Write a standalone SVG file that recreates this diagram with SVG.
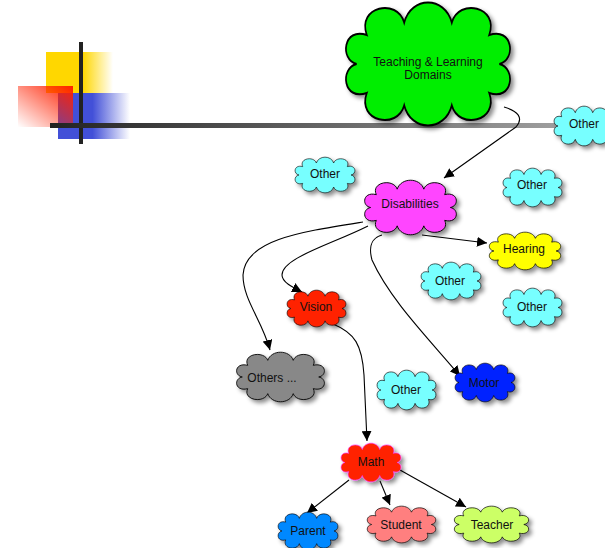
<svg xmlns="http://www.w3.org/2000/svg" width="605" height="548" viewBox="0 0 605 548">
<style>
.cl{stroke:#000;stroke-width:1;filter:url(#sh)}
.cl use{vector-effect:non-scaling-stroke}
text{font-family:"Liberation Sans",Arial,sans-serif;font-size:12px;fill:#111;text-anchor:middle}
.cn{fill:none;stroke:#000;stroke-width:1.1}
</style>
<defs>
<filter id="sh" x="-20%" y="-20%" width="150%" height="160%">
<feDropShadow dx="3" dy="3" stdDeviation="2" flood-color="#000" flood-opacity="0.45"/>
</filter>
<path id="cloud" d="M14,16 C8,2 32,-2 36,10 C40,-3 60,-3 64,10 C68,-2 92,2 86,16 C100,12 102,28 92,30 C102,32 100,48 86,44 C92,58 68,62 64,50 C60,63 40,63 36,50 C32,62 8,58 14,44 C0,48 -2,32 8,30 C-2,28 0,12 14,16 Z"/>
<marker id="ar" viewBox="0 0 10 10" refX="10" refY="5" markerWidth="10" markerHeight="10" markerUnits="userSpaceOnUse" orient="auto">
<path d="M0,0 L10,5 L0,10 Z" fill="#000"/>
</marker>
<linearGradient id="gy" x1="0" x2="1" y1="0" y2="0"><stop offset="0.55" stop-color="#ffd700"/><stop offset="1" stop-color="#ffd700" stop-opacity="0"/></linearGradient>
<linearGradient id="gb" x1="0" x2="1" y1="0" y2="0"><stop offset="0.48" stop-color="#4250d8"/><stop offset="1" stop-color="#4250d8" stop-opacity="0"/></linearGradient>
<linearGradient id="gr" x1="1" y1="0" x2="0" y2="1"><stop offset="0" stop-color="#ff2000"/><stop offset="1" stop-color="#ff2000" stop-opacity="0"/></linearGradient>
<linearGradient id="gbar" x1="50" x2="605" y1="0" y2="0" gradientUnits="userSpaceOnUse"><stop offset="0" stop-color="#222"/><stop offset="1" stop-color="#aaa"/></linearGradient>
</defs>
<rect width="605" height="548" fill="#fff"/>
<g id="decor">
<rect x="46" y="52" width="67" height="41" fill="url(#gy)"/>
<rect x="58" y="93" width="72" height="46" fill="url(#gb)"/>
<rect x="18" y="86" width="55" height="41" fill="url(#gr)"/>
<rect x="79" y="42" width="4" height="102" fill="#222"/>
<rect x="50" y="123" width="555" height="5" fill="url(#gbar)"/>
</g>
<g id="connectors">
<path class="cn" d="M504,107 C518,111 524,118 516,127 L444,178" marker-end="url(#ar)"/>
<path class="cn" d="M422,235 L487,243" marker-end="url(#ar)"/>
<path class="cn" d="M363,222 C300,232 245,240 243,275 C243,300 262,320 270,350" marker-end="url(#ar)"/>
<path class="cn" d="M368,226 C330,245 282,258 282,275 C282,282 292,287 302,292" marker-end="url(#ar)"/>
<path class="cn" d="M382,235 C372,238 368,245 372,260 C390,300 430,340 460,376" marker-end="url(#ar)"/>
<path class="cn" d="M333,324 C355,333 362,345 364,375 L367,441" marker-end="url(#ar)"/>
<path class="cn" d="M349,480 L307,513" marker-end="url(#ar)"/>
<path class="cn" d="M380,481 L390,505" marker-end="url(#ar)"/>
<path class="cn" d="M400,470 L466,507" marker-end="url(#ar)"/>
</g>
<g id="n-teaching"><g class="cl"><use href="#cloud" fill="#00ee00" transform="translate(343,2) scale(1.7,2.067)"/></g><text x="428" y="66">Teaching &amp; Learning</text><text x="428" y="79">Domains</text></g>
<g id="n-disabilities"><g class="cl"><use href="#cloud" fill="#ff44ff" transform="translate(363,180) scale(0.95,0.917)"/></g><text x="410" y="208">Disabilities</text></g>
<g id="n-other1"><g class="cl"><use href="#cloud" fill="#77ffff" transform="translate(294,157) scale(0.62,0.6)"/></g><text x="325" y="178">Other</text></g>
<g id="n-other2"><g class="cl"><use href="#cloud" fill="#77ffff" transform="translate(502,168) scale(0.61,0.65)"/></g><text x="532" y="189">Other</text></g>
<g id="n-other3"><g class="cl"><use href="#cloud" fill="#77ffff" transform="translate(553,106) scale(0.62,0.667)"/></g><text x="584" y="128">Other</text></g>
<g id="n-hearing"><g class="cl"><use href="#cloud" fill="#ffff00" transform="translate(488,232) scale(0.74,0.633)"/></g><text x="524" y="253">Hearing</text></g>
<g id="n-other4"><g class="cl"><use href="#cloud" fill="#77ffff" transform="translate(420,262) scale(0.62,0.633)"/></g><text x="450" y="285">Other</text></g>
<g id="n-other5"><g class="cl"><use href="#cloud" fill="#77ffff" transform="translate(502,288) scale(0.61,0.65)"/></g><text x="532" y="311">Other</text></g>
<g id="n-vision"><g class="cl"><use href="#cloud" fill="#ff2200" transform="translate(286,290) scale(0.61,0.617)"/></g><text x="316" y="311">Vision</text></g>
<g id="n-others"><g class="cl"><use href="#cloud" fill="#888888" transform="translate(235,352) scale(0.91,0.833)"/></g><text x="272" y="382">Others ...</text></g>
<g id="n-other6"><g class="cl"><use href="#cloud" fill="#77ffff" transform="translate(376,370) scale(0.61,0.667)"/></g><text x="406" y="394">Other</text></g>
<g id="n-motor"><g class="cl"><use href="#cloud" fill="#0022ff" transform="translate(454,363) scale(0.62,0.65)"/></g><text x="484" y="387">Motor</text></g>
<g id="n-math"><g class="cl"><use href="#cloud" fill="#ff2200" stroke="#ff33ff" transform="translate(340,443) scale(0.62,0.65)"/></g><text x="371" y="466">Math</text></g>
<g id="n-parent"><g class="cl"><use href="#cloud" fill="#0088ff" transform="translate(277,512) scale(0.62,0.633)"/></g><text x="308" y="535">Parent</text></g>
<g id="n-student"><g class="cl"><use href="#cloud" fill="#ff7f7f" transform="translate(366,506) scale(0.71,0.617)"/></g><text x="401" y="529">Student</text></g>
<g id="n-teacher"><g class="cl"><use href="#cloud" fill="#ccff66" transform="translate(453,506) scale(0.77,0.617)"/></g><text x="492" y="529">Teacher</text></g>
</svg>
